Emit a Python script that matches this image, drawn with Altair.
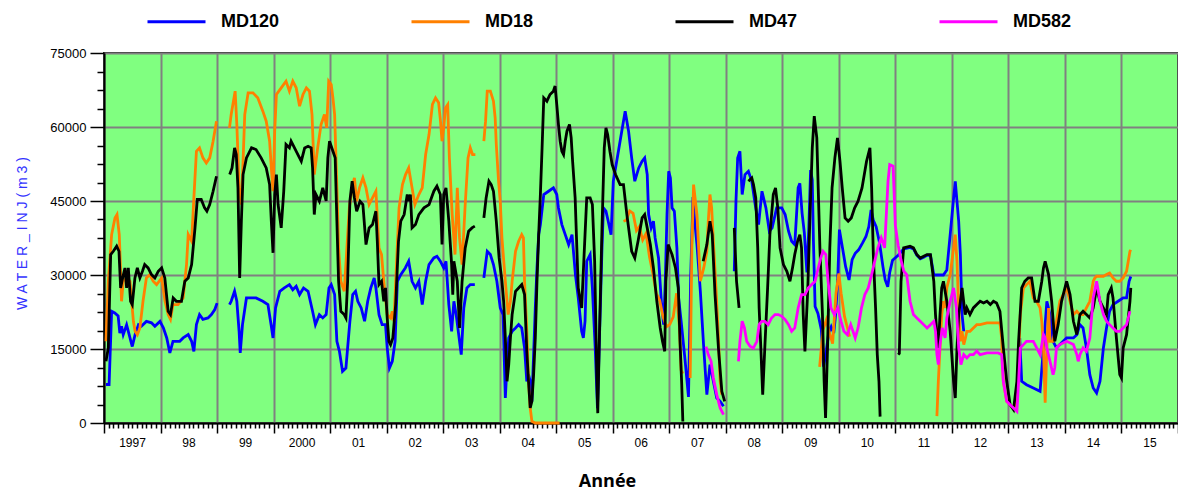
import altair as alt
import pandas as pd

series_names = ["MD120", "MD18", "MD47", "MD582"]
series_colors = ["#0000ff", "#ff8000", "#000000", "#ff00ff"]
year_labels = ["1997", "98", "99", "2000", "01", "02", "03", "04", "05", "06",
               "07", "08", "09", "10", "11", "12", "13", "14", "15"]

# [decimal year, water injected m3]; None = gap in the record
md120 = [
    [1997.035, 7800], [1997.09, 7800], [1997.135, 22650], [1997.19, 22300], [1997.25, 21700], [1997.28, 18200],
    [1997.31, 19600], [1997.34, 17900], [1997.40, 19900], [1997.46, 17240], [1997.50, 15500], [1997.55, 17900],
    [1997.61, 19900], [1997.66, 19600], [1997.75, 20600], [1997.84, 20300], [1997.90, 19600], [1997.99, 20600],
    [1998.05, 19300], [1998.11, 17240], [1998.165, 14200], [1998.22, 16560], [1998.34, 16560], [1998.40, 17240],
    [1998.49, 17910], [1998.55, 16560], [1998.59, 14500], [1998.635, 19940], [1998.69, 21970], [1998.75, 21000],
    [1998.84, 21300], [1998.90, 21970], [1998.96, 23000], [1999.0, 24300], None,
    [1999.22, 24000], [1999.25, 24670], [1999.31, 26700], [1999.35, 24670], [1999.39, 18590], [1999.41, 14200],
    [1999.45, 19940], [1999.52, 25350], [1999.61, 25350], [1999.69, 25350], [1999.81, 24670], [1999.90, 24000],
    [1999.96, 19600], [1999.99, 17240], [2000.035, 23320], [2000.11, 26700], [2000.19, 27380], [2000.28, 28050],
    [2000.34, 27000], [2000.40, 27700], [2000.46, 26030], [2000.53, 27380], [2000.61, 26700], [2000.69, 22650],
    [2000.74, 19940], [2000.81, 21970], [2000.87, 21300], [2000.93, 21970], [2000.98, 27380], [2001.02, 28050],
    [2001.08, 26030], [2001.12, 16560], [2001.165, 14530], [2001.22, 10480], [2001.28, 11150], [2001.31, 15210],
    [2001.35, 20620], [2001.40, 26030], [2001.45, 26700], [2001.49, 24670], [2001.55, 23320], [2001.61, 20620],
    [2001.665, 24670], [2001.72, 27380], [2001.78, 29410], [2001.81, 27380], [2001.865, 21970], [2001.92, 19940],
    [2001.98, 19940], [2002.01, 15210], [2002.05, 11150], [2002.10, 12510], [2002.15, 16560], [2002.19, 28730],
    [2002.25, 30080], [2002.33, 31430], [2002.39, 32790], [2002.45, 28730], [2002.51, 27380], [2002.57, 28730],
    [2002.63, 24000], [2002.69, 28730], [2002.75, 32110], [2002.835, 33460], [2002.89, 33800], [2002.95, 32790],
    [2003.01, 31430], [2003.05, 32790], [2003.10, 24000], [2003.15, 18590], [2003.19, 24670], [2003.23, 21970],
    [2003.29, 16560], [2003.32, 13860], [2003.365, 23320], [2003.42, 27380], [2003.48, 28050], [2003.56, 28050], None,
    [2003.72, 29410], [2003.78, 34810], [2003.835, 34140], [2003.89, 32110], [2003.95, 28730], [2004.01, 23320],
    [2004.06, 21970], [2004.10, 5070], [2004.13, 11830], [2004.16, 17240], [2004.22, 18590], [2004.28, 19270],
    [2004.335, 19940], [2004.39, 19270], [2004.44, 15210], [2004.48, 8450], [2004.51, 9800], [2004.54, 8450],
    [2004.57, 4390], [2004.63, 23320], [2004.66, 31430], [2004.69, 38190], [2004.72, 40220], [2004.78, 46310],
    [2004.865, 46980], [2004.95, 47660], [2005.01, 46310], [2005.04, 43600], [2005.10, 40220], [2005.16, 38190],
    [2005.22, 36170], [2005.28, 38190], [2005.34, 30080], [2005.39, 25350], [2005.45, 18590], [2005.48, 17240],
    [2005.51, 20620], [2005.54, 32790], [2005.60, 34140], [2005.64, 27380], [2005.69, 15210], [2005.73, 3000],
    [2005.76, 15210], [2005.81, 35490], [2005.835, 43600], [2005.88, 42930], [2005.92, 40900], [2005.97, 38190],
    [2006.01, 49010], [2006.07, 53070], [2006.13, 57120], [2006.17, 59830], [2006.22, 63210], [2006.28, 59150],
    [2006.335, 53740], [2006.39, 49010], [2006.46, 51710], [2006.52, 53070], [2006.565, 53740], [2006.61, 50360],
    [2006.635, 42250], [2006.68, 39550], [2006.72, 40900], [2006.75, 37520], [2006.81, 33460], [2006.86, 24670],
    [2006.90, 19940], [2006.93, 28730], [2006.96, 42250], [2006.99, 51040], [2007.02, 49690], [2007.05, 43600],
    [2007.09, 42930], [2007.135, 35490], [2007.165, 25350], [2007.21, 20620], [2007.28, 12700], [2007.34, 5300],
    [2007.38, 30000], [2007.42, 45800], [2007.45, 40900], [2007.49, 36170], [2007.55, 26700], [2007.61, 15210],
    [2007.665, 5750], [2007.72, 11830], [2007.78, 8450], [2007.84, 5070], [2007.90, 4390], [2007.96, 3380], None,
    [2008.15, 30760], [2008.18, 44950], [2008.21, 53740], [2008.25, 55090], [2008.29, 46310], [2008.34, 50360],
    [2008.40, 51040], [2008.46, 49010], [2008.52, 44280], [2008.58, 40220], [2008.64, 46980], [2008.71, 43600],
    [2008.77, 38870], [2008.82, 39550], [2008.90, 43600], [2008.99, 43600], [2009.05, 42250], [2009.11, 38870],
    [2009.165, 36840], [2009.22, 36170], [2009.28, 47660], [2009.31, 48600], [2009.35, 42500], [2009.39, 38500],
    [2009.435, 30500], [2009.47, 39800], [2009.50, 51300], [2009.53, 49300], [2009.55, 37100], [2009.58, 23600],
    [2009.63, 22200], [2009.69, 18900], [2009.73, 11400], [2009.78, 14800], [2009.82, 18200], [2009.865, 19500],
    [2009.91, 18200], [2009.94, 21600], [2009.98, 29000], [2010.01, 39200], [2010.06, 35800], [2010.12, 31700],
    [2010.18, 29000], [2010.235, 33100], [2010.29, 34400], [2010.35, 35100], [2010.42, 36500], [2010.48, 37800],
    [2010.53, 39800], [2010.57, 43200], [2010.61, 41100], [2010.66, 39800], [2010.72, 36500], [2010.78, 31700],
    [2010.82, 29000], [2010.865, 27600], [2010.90, 30500], [2010.95, 33000], [2011.05, 34000], [2011.15, 35300],
    [2011.26, 35600], [2011.32, 35300], [2011.38, 34000], [2011.44, 33300], [2011.5, 33600], [2011.56, 34000],
    [2011.62, 34000], [2011.68, 30000], [2011.85, 30000], [2011.91, 31000], [2011.97, 38190],
    [2012.03, 45600], [2012.06, 49000], [2012.09, 44950], [2012.12, 40900], [2012.15, 34140], [2012.18, 21970],
    [2012.21, 18590], None,
    [2013.2, 17240], [2013.235, 8450], [2013.32, 7770], [2013.44, 7100], [2013.56, 6420], [2013.62, 15210],
    [2013.68, 24670], [2013.735, 21970], [2013.79, 16560], [2013.85, 15210], [2013.91, 15890], [2014.03, 17240],
    [2014.15, 17240], [2014.21, 17910], [2014.265, 19940], [2014.32, 19270], [2014.38, 15210], [2014.44, 9800],
    [2014.50, 7100], [2014.56, 6100], [2014.62, 8450], [2014.68, 15210], [2014.735, 19270], [2014.79, 22650],
    [2014.85, 24000], [2014.94, 24670], [2015.03, 25350], [2015.09, 25350], [2015.135, 28730], [2015.165, 29700],
]

md18 = [
    [1997.035, 16560], [1997.076, 28730], [1997.135, 38190], [1997.194, 41570], [1997.23, 42250], [1997.27, 38190],
    [1997.29, 32110], [1997.31, 24670], [1997.34, 28730], [1997.40, 29410], [1997.46, 28730], [1997.49, 24670],
    [1997.52, 20620], [1997.55, 18590], [1997.59, 17910], [1997.635, 19270], [1997.69, 24670], [1997.75, 29410],
    [1997.81, 30080], [1997.87, 28730], [1997.93, 28050], [1998.02, 29410], [1998.08, 24670], [1998.135, 21970],
    [1998.176, 21000], [1998.22, 24000], [1998.31, 24000], [1998.40, 25350], [1998.46, 32110], [1998.49, 38190],
    [1998.55, 36840], [1998.59, 45630], [1998.635, 55090], [1998.69, 55770], [1998.75, 53740], [1998.81, 52720],
    [1998.87, 53740], [1998.93, 57120], [1998.99, 61180], None,
    [1999.22, 59830], [1999.25, 62530], [1999.28, 64560], [1999.32, 67260], [1999.35, 60500], [1999.39, 47660],
    [1999.43, 44280], [1999.46, 53070], [1999.49, 62530], [1999.55, 66930], [1999.635, 66930], [1999.72, 65910],
    [1999.81, 63210], [1999.87, 61180], [1999.93, 57120], [1999.96, 51710], [1999.99, 46980], [2000.02, 59150],
    [2000.05, 66590], [2000.135, 67940], [2000.22, 69290], [2000.28, 67260], [2000.34, 69290], [2000.40, 67940],
    [2000.46, 64220], [2000.52, 66590], [2000.58, 67940], [2000.635, 67260], [2000.68, 62530], [2000.72, 50360],
    [2000.78, 55770], [2000.84, 60500], [2000.90, 62530], [2000.94, 59830], [2000.975, 69290], [2001.02, 68610],
    [2001.05, 65910], [2001.08, 62530], [2001.12, 47660], [2001.15, 35490], [2001.19, 28730], [2001.25, 26700],
    [2001.29, 34140], [2001.34, 43600], [2001.39, 47660], [2001.43, 49690], [2001.47, 44950], [2001.52, 47660],
    [2001.58, 49690], [2001.635, 47660], [2001.69, 44280], [2001.75, 45630], [2001.81, 46980], [2001.865, 35490],
    [2001.91, 34140], [2001.95, 28730], [2002.01, 21970], [2002.07, 21290], [2002.10, 22650], [2002.13, 20620],
    [2002.19, 36170], [2002.22, 43600], [2002.28, 48330], [2002.335, 50360], [2002.39, 51710], [2002.45, 47660],
    [2002.50, 44280], [2002.57, 46310], [2002.63, 47660], [2002.69, 54420], [2002.75, 58470], [2002.81, 64560],
    [2002.865, 65910], [2002.92, 64900], [2002.95, 61530], [2002.98, 57120], [2003.01, 59830], [2003.04, 63880],
    [2003.08, 64560], [2003.11, 53740], [2003.16, 42250], [2003.21, 34140], [2003.25, 47660], [2003.29, 37520],
    [2003.335, 32110], [2003.39, 44280], [2003.44, 53740], [2003.48, 55770], [2003.52, 54420], [2003.57, 54420], None,
    [2003.72, 57120], [2003.75, 61180], [2003.78, 67260], [2003.835, 67260], [2003.89, 65230], [2003.92, 61850],
    [2003.94, 56450], [2003.98, 49010], [2004.01, 44950], [2004.04, 37520], [2004.10, 28730], [2004.15, 21970],
    [2004.19, 24670], [2004.22, 28730], [2004.28, 34810], [2004.335, 36840], [2004.39, 38190], [2004.42, 37520],
    [2004.44, 28730], [2004.48, 18590], [2004.51, 8450], [2004.54, 3040], [2004.57, 340], [2004.63, 0],
    [2004.75, 0], [2004.98, 0], [2005.06, 0], None,
    [2006.19, 40900], [2006.24, 41100], [2006.30, 43000], [2006.36, 42500], [2006.42, 39000], [2006.47, 39800],
    [2006.53, 37100], [2006.59, 38400], [2006.65, 33700], [2006.71, 30300], [2006.77, 26300], [2006.83, 24900],
    [2006.89, 21500], [2006.95, 19500], [2007.01, 20000], [2007.07, 21500], [2007.13, 26300], [2007.18, 19500],
    [2007.21, 10700], [2007.24, 10000], None,
    [2007.37, 9130], [2007.40, 35490], [2007.43, 48330], [2007.49, 42250], [2007.55, 28730], [2007.61, 31430],
    [2007.665, 34810], [2007.69, 40900], [2007.72, 46310], [2007.75, 43600], [2007.78, 36840], [2007.82, 28730],
    [2007.87, 17240], [2007.90, 8450], [2007.93, 5750], None,
    [2009.66, 11400], [2009.72, 18900], [2009.78, 20900], [2009.835, 18200], [2009.89, 16100], [2009.95, 26300],
    [2010.0, 30300], [2010.04, 26300], [2010.10, 21600], [2010.16, 18900], [2010.19, 17500], None,
    [2011.735, 1400], [2011.76, 8450], [2011.79, 15210], [2011.82, 21970], [2011.85, 24670], [2011.88, 23320],
    [2011.91, 27380], [2011.97, 30080], [2012.0, 32790], [2012.03, 35490], [2012.06, 38190], [2012.09, 32790],
    [2012.12, 23320], [2012.15, 16560], [2012.18, 18590], [2012.21, 15890], [2012.24, 17240], [2012.265, 18590],
    [2012.32, 18590], [2012.38, 19270], [2012.44, 19940], [2012.5, 19940], [2012.62, 20280], [2012.74, 20280],
    [2012.85, 20280], [2012.88, 17240], [2012.91, 8450], [2012.97, 4390], [2013.03, 3720], [2013.09, 3040],
    [2013.15, 4390], [2013.21, 21970], [2013.265, 27380], [2013.32, 28050], [2013.38, 28730], [2013.44, 25350],
    [2013.50, 24670], [2013.56, 23320], [2013.59, 20620], [2013.62, 15210], [2013.65, 4100], [2013.68, 15210],
    [2013.71, 23320], [2013.735, 16560], [2013.79, 16560], [2013.85, 20620], [2013.91, 24670], [2013.97, 26030],
    [2014.03, 27380], [2014.09, 24670], [2014.15, 21970], [2014.21, 22650], [2014.265, 21970], [2014.32, 21970],
    [2014.38, 23320], [2014.44, 24670], [2014.50, 28730], [2014.53, 29410], [2014.56, 29750], [2014.68, 29750],
    [2014.735, 30080], [2014.79, 30400], [2014.85, 29410], [2014.91, 28730], [2014.97, 28730], [2015.03, 29410],
    [2015.09, 30760], [2015.12, 32790], [2015.15, 34810], [2015.165, 35100],
]

md47 = [
    [1997.035, 12510], [1997.076, 15210], [1997.118, 34140], [1997.165, 34810], [1997.224, 35830], [1997.265, 34810],
    [1997.294, 27380], [1997.33, 29410], [1997.371, 31430], [1997.40, 27380], [1997.43, 31430], [1997.47, 24670],
    [1997.50, 24000], [1997.547, 29410], [1997.59, 31430], [1997.635, 29410], [1997.68, 30760], [1997.72, 32110],
    [1997.78, 31430], [1997.84, 30080], [1997.90, 29410], [1997.96, 30760], [1998.02, 31430], [1998.076, 29410],
    [1998.135, 22650], [1998.176, 21970], [1998.224, 25350], [1998.28, 24670], [1998.37, 24670], [1998.43, 28730],
    [1998.49, 29410], [1998.55, 32110], [1998.61, 39550], [1998.65, 45300], [1998.72, 45300], [1998.78, 43600],
    [1998.82, 42930], [1998.87, 44280], [1998.93, 46980], [1998.99, 50020], None,
    [1999.224, 50360], [1999.265, 51710], [1999.31, 55770], [1999.34, 54420], [1999.37, 47660], [1999.40, 29410],
    [1999.43, 40900], [1999.46, 50360], [1999.52, 53740], [1999.61, 55770], [1999.69, 55430], [1999.78, 53740],
    [1999.87, 51710], [1999.93, 48330], [1999.96, 40900], [1999.99, 34500], [2000.02, 46310], [2000.05, 50360],
    [2000.08, 44280], [2000.135, 39550], [2000.18, 47000], [2000.22, 56450], [2000.28, 55770], [2000.31, 57120],
    [2000.37, 55770], [2000.43, 54420], [2000.49, 53070], [2000.55, 55770], [2000.61, 56100], [2000.665, 55770],
    [2000.69, 51710], [2000.72, 42250], [2000.75, 46310], [2000.81, 44950], [2000.87, 47660], [2000.93, 45000],
    [2000.96, 53740], [2000.99, 57120], [2001.05, 55090], [2001.09, 53740], [2001.12, 40900], [2001.15, 28730],
    [2001.19, 22650], [2001.25, 21970], [2001.28, 21300], [2001.31, 28730], [2001.35, 45000], [2001.39, 49010],
    [2001.43, 45630], [2001.47, 42930], [2001.53, 44950], [2001.58, 44280], [2001.635, 36170], [2001.69, 39550],
    [2001.75, 40220], [2001.81, 42930], [2001.835, 36840], [2001.865, 28050], [2001.91, 28730], [2001.95, 24670],
    [2001.98, 27380], [2002.01, 21290], [2002.04, 16560], [2002.07, 15890], [2002.11, 17240], [2002.16, 23990],
    [2002.21, 36840], [2002.25, 40900], [2002.31, 42250], [2002.365, 46310], [2002.39, 44950], [2002.42, 46310],
    [2002.45, 39550], [2002.51, 40220], [2002.57, 42250], [2002.66, 43600], [2002.75, 44280], [2002.835, 46980],
    [2002.89, 48000], [2002.95, 46310], [2002.98, 36170], [2003.01, 46310], [2003.05, 47660], [2003.10, 40900],
    [2003.15, 32110], [2003.17, 26030], [2003.19, 32790], [2003.25, 28730], [2003.29, 19270], [2003.335, 28730],
    [2003.39, 35490], [2003.45, 38870], [2003.51, 39550], [2003.56, 39900], None,
    [2003.72, 41570], [2003.76, 45630], [2003.81, 49010], [2003.85, 48330], [2003.89, 46980], [2003.94, 40900],
    [2003.99, 33460], [2004.04, 28730], [2004.07, 24670], [2004.10, 17240], [2004.13, 8450], [2004.16, 11830],
    [2004.19, 17240], [2004.22, 21970], [2004.28, 26700], [2004.335, 27380], [2004.39, 28050], [2004.44, 26030],
    [2004.48, 14530], [2004.51, 8450], [2004.54, 3040], [2004.57, 4390], [2004.60, 9800], [2004.63, 17240],
    [2004.66, 28730], [2004.69, 38190], [2004.72, 46310], [2004.75, 55770], [2004.78, 65910], [2004.835, 65230],
    [2004.89, 66590], [2004.95, 67260], [2004.98, 68300], [2005.01, 64560], [2005.04, 60500], [2005.07, 57120],
    [2005.10, 55090], [2005.13, 54420], [2005.16, 57120], [2005.19, 59150], [2005.235, 60500], [2005.265, 57800],
    [2005.29, 53070], [2005.335, 45630], [2005.365, 35490], [2005.39, 27380], [2005.45, 23320], [2005.51, 38190],
    [2005.54, 45630], [2005.60, 45630], [2005.64, 44280], [2005.68, 32790], [2005.72, 8450], [2005.735, 2000],
    [2005.765, 17910], [2005.81, 39550], [2005.85, 55770], [2005.88, 59830], [2005.91, 58470], [2005.95, 55090],
    [2005.99, 52390], [2006.05, 50360], [2006.13, 48330], [2006.19, 48330], [2006.25, 42250], [2006.335, 34810],
    [2006.39, 33460], [2006.45, 37000], [2006.52, 41570], [2006.565, 42250], [2006.61, 39550], [2006.665, 36170],
    [2006.72, 31430], [2006.78, 24670], [2006.84, 19270], [2006.88, 16560], [2006.92, 14530], [2006.94, 28730],
    [2006.98, 36170], [2007.05, 34140], [2007.11, 31430], [2007.16, 27380], [2007.19, 16560], [2007.22, 8000],
    [2007.24, 300], None,
    [2007.60, 32790], [2007.665, 36170], [2007.72, 40900], [2007.76, 38190], [2007.81, 26030], [2007.87, 15210],
    [2007.93, 6420], [2007.98, 4390], None,
    [2008.15, 39550], [2008.19, 28730], [2008.235, 23320], None,
    [2008.40, 49010], [2008.46, 49690], [2008.49, 48330], [2008.53, 45630], [2008.565, 35490], [2008.59, 23320],
    [2008.62, 15210], [2008.653, 5750], [2008.69, 15210], [2008.74, 27380], [2008.78, 38190], [2008.84, 46310],
    [2008.88, 47660], [2008.92, 43600], [2008.96, 35490], [2009.02, 32110], [2009.08, 30760], [2009.135, 28730],
    [2009.18, 31430], [2009.22, 34140], [2009.27, 36840], [2009.31, 38190], [2009.34, 35490], [2009.37, 21970],
    [2009.40, 14530], [2009.45, 27000], [2009.49, 42250], [2009.53, 55770], [2009.565, 62200], [2009.61, 57800],
    [2009.635, 47660], [2009.665, 35490], [2009.71, 21970], [2009.74, 8450], [2009.765, 1010], [2009.80, 15210],
    [2009.84, 35490], [2009.88, 47660], [2009.93, 53740], [2009.976, 57800], [2010.02, 53070], [2010.06, 47660],
    [2010.11, 41570], [2010.165, 40900], [2010.22, 41570], [2010.28, 43600], [2010.34, 44950], [2010.41, 47660],
    [2010.49, 53070], [2010.55, 55770], [2010.58, 47660], [2010.61, 34140], [2010.65, 23320], [2010.68, 13860],
    [2010.71, 8450], [2010.73, 1300], None,
    [2011.05, 13860], [2011.07, 14100], [2011.10, 28730], [2011.147, 35490], [2011.26, 35830], [2011.32, 35490],
    [2011.38, 34140], [2011.44, 33460], [2011.5, 33800], [2011.56, 34140], [2011.62, 34140], [2011.68, 28730],
    [2011.71, 21970], [2011.735, 17910], [2011.76, 15210], [2011.79, 21970], [2011.82, 27380], [2011.85, 28730],
    [2011.91, 24670], [2011.97, 18590], [2012.03, 8450], [2012.06, 5070], [2012.09, 15210], [2012.12, 21970],
    [2012.18, 27380], [2012.235, 21970], [2012.265, 23320], [2012.32, 21970], [2012.38, 23320], [2012.44, 24000],
    [2012.5, 24670], [2012.56, 24330], [2012.62, 24670], [2012.68, 24000], [2012.735, 24670], [2012.79, 24330],
    [2012.85, 22650], [2012.91, 15210], [2012.97, 8450], [2013.03, 3720], [2013.09, 2700], [2013.15, 8450],
    [2013.18, 16560], [2013.235, 27380], [2013.29, 28730], [2013.35, 29410], [2013.41, 29410], [2013.47, 24670],
    [2013.53, 24670], [2013.59, 28730], [2013.62, 31430], [2013.65, 32790], [2013.68, 31430], [2013.71, 30080],
    [2013.765, 24670], [2013.82, 16560], [2013.88, 19940], [2013.94, 24670], [2014.0, 27380], [2014.03, 28730],
    [2014.09, 26030], [2014.15, 20620], [2014.21, 17910], [2014.265, 21970], [2014.32, 22650], [2014.38, 21970],
    [2014.44, 21290], [2014.5, 23320], [2014.56, 27380], [2014.62, 24670], [2014.68, 23320], [2014.735, 21970],
    [2014.765, 26030], [2014.82, 27380], [2014.85, 25350], [2014.91, 17240], [2014.97, 9800], [2015.0, 9130],
    [2015.03, 15210], [2015.09, 17910], [2015.15, 24670], [2015.165, 27380],
]

md582 = [
    [2007.65, 15500], [2007.69, 13860], [2007.74, 12510], [2007.78, 9130], [2007.84, 5750], [2007.90, 3040],
    [2007.96, 1690], None,
    [2008.224, 12510], [2008.25, 16560], [2008.29, 20620], [2008.33, 19270], [2008.37, 16560], [2008.43, 15550],
    [2008.49, 15210], [2008.55, 16560], [2008.59, 19940], [2008.635, 20620], [2008.69, 20620], [2008.75, 19940],
    [2008.81, 21290], [2008.87, 21970], [2008.93, 21970], [2008.99, 21630], [2009.05, 20960], [2009.11, 19940],
    [2009.165, 18590], [2009.22, 19270], [2009.28, 23320], [2009.34, 26030], [2009.40, 26030], [2009.46, 27380],
    [2009.52, 28050], [2009.58, 28730], [2009.635, 31430], [2009.68, 33460], [2009.72, 34810], [2009.77, 34140],
    [2009.81, 28730], [2009.86, 23320], [2009.92, 21970], [2009.98, 23320], [2010.04, 20620], [2010.09, 18590],
    [2010.15, 17910], [2010.21, 19940], [2010.25, 18590], [2010.29, 17240], [2010.34, 19270], [2010.40, 23320],
    [2010.46, 26030], [2010.52, 27380], [2010.58, 30080], [2010.635, 32790], [2010.69, 35490], [2010.75, 37520],
    [2010.81, 35490], [2010.87, 49010], [2010.90, 52390], [2010.96, 52050], [2011.0, 40000], [2011.05, 36000],
    [2011.10, 33000], [2011.15, 30760], [2011.2, 30080], [2011.26, 24670], [2011.32, 21970], [2011.38, 21290],
    [2011.44, 20620], [2011.5, 19940], [2011.56, 19270], [2011.62, 19940], [2011.68, 20620], [2011.71, 18590],
    [2011.735, 13860], [2011.76, 11830], [2011.79, 15890], [2011.83, 19270], [2011.88, 17240], [2011.91, 21290],
    [2011.97, 24670], [2012.03, 27380], [2012.08, 23320], [2012.12, 15210], [2012.16, 11830], [2012.21, 13860],
    [2012.265, 13180], [2012.32, 13860], [2012.38, 13860], [2012.44, 14530], [2012.5, 13860], [2012.62, 14200],
    [2012.82, 14200], [2012.88, 13860], [2012.91, 8450], [2012.97, 4390], [2013.03, 3720], [2013.09, 3040],
    [2013.15, 2370], [2013.18, 8450], [2013.21, 15210], [2013.265, 15890], [2013.32, 16560], [2013.44, 16560],
    [2013.5, 15210], [2013.56, 13860], [2013.62, 17910], [2013.65, 17240], [2013.68, 15210], [2013.735, 12510],
    [2013.79, 9800], [2013.82, 11150], [2013.85, 15210], [2013.91, 15890], [2014.03, 16560], [2014.15, 15890],
    [2014.21, 13860], [2014.235, 12510], [2014.265, 13860], [2014.32, 15210], [2014.38, 14530], [2014.44, 17240],
    [2014.5, 25350], [2014.56, 28730], [2014.62, 24670], [2014.68, 21970], [2014.735, 20620], [2014.79, 19940],
    [2014.85, 19270], [2014.91, 18590], [2014.97, 18590], [2015.03, 19270], [2015.09, 19940], [2015.15, 22650],
]

rows = []
for name, pts in zip(series_names, [md120, md18, md47, md582]):
    seg = 0
    for p in pts:
        if p is None:
            seg += 1
            continue
        rows.append({"series": name, "seg": f"{name}-{seg}", "t": p[0], "v": p[1]})
df = pd.DataFrame(rows)

x_tick_values = [1997 + m / 12 for m in range(0, 19 * 12 + 1)]
y_tick_values = [i * 3750 for i in range(0, 21)]
x_major = "abs(datum.value - round(datum.value)) < 0.001"
y_major = "datum.value % 15000 == 0"
labels_js = "[" + ",".join(f"'{s}'" for s in year_labels) + "]"

x_axis = alt.Axis(
    values=x_tick_values,
    labelExpr=f"({x_major}) && datum.value < 2015.5 ? {labels_js}[round(datum.value) - 1997] : ''",
    labelOffset=28,
    labelFlush=False,
    labelOverlap=False,
    labelBound=False,
    labelFont="Liberation Sans",
    labelFontSize=12,
    labelColor="#000000",
    labelPadding=4,
    tickSize={"condition": {"test": x_major, "value": 10}, "value": 5},
    tickColor="#000000",
    tickWidth=1.5,
    grid=True,
    gridColor="#808080",
    gridWidth=2,
    gridOpacity={"condition": {"test": x_major, "value": 1}, "value": 0},
    domainColor="#000000",
    domainWidth=2,
    title="Année",
    titleFont="Open Sans",
    titleFontSize=18,
    titleFontWeight="bold",
    titleColor="#000000",
    titleX=503,
    titleY=58,
    titleAlign="center",
    titleBaseline="middle",
)

y_axis = alt.Axis(
    values=y_tick_values,
    format="d",
    labelExpr=f"{y_major} ? datum.label : ''",
    labelOverlap=False,
    labelFont="Liberation Sans",
    labelFontSize=13,
    labelColor="#000000",
    labelPadding=4,
    labelFlush=False,
    tickSize={"condition": {"test": y_major, "value": 14}, "value": 7},
    tickColor="#000000",
    tickWidth=1.5,
    grid=True,
    gridColor="#808080",
    gridWidth=2,
    gridOpacity={"condition": {"test": y_major, "value": 1}, "value": 0},
    domainColor="#000000",
    domainWidth=2,
    title="W A T E R _ I N J  ( m 3 )",
    titleFont="Liberation Sans",
    titleFontSize=14,
    titleFontWeight="normal",
    titleColor="#3333ff",
    titleX=-82,
    titleY=180,
    titleAngle=270,
    titleAlign="center",
    titleBaseline="middle",
)

chart = alt.Chart(df).mark_line(strokeWidth=2.8).encode(
    x=alt.X("t:Q", scale=alt.Scale(domain=[1997, 2016], nice=False, zero=False), axis=x_axis),
    y=alt.Y("v:Q", scale=alt.Scale(domain=[0, 75000], nice=False), axis=y_axis),
    color=alt.Color(
        "series:N",
        scale=alt.Scale(domain=series_names, range=series_colors),
        legend=alt.Legend(
            orient="none",
            legendX=42,
            legendY=-62,
            direction="horizontal",
            columns=4,
            gridAlign="all",
            columnPadding=125,
            symbolType="stroke",
            symbolSize=3364,
            symbolStrokeWidth=3,
            labelFont="Liberation Sans",
            labelFontSize=18,
            labelFontWeight="bold",
            labelColor="#000000",
            labelOffset=14,
            labelLimit=300,
            title=None,
            padding=0,
        ),
    ),
    detail="seg:N",
).properties(
    width=1074,
    height=370,
    autosize=alt.AutoSizeParams(type="none"),
    padding={"left": 104, "top": 53, "right": 0, "bottom": 70},
    background="#ffffff",
).configure_view(fill="#80ff80", stroke="#202020", strokeWidth=2)

chart.save("out.html", embed_options={"renderer": "svg", "actions": False})
